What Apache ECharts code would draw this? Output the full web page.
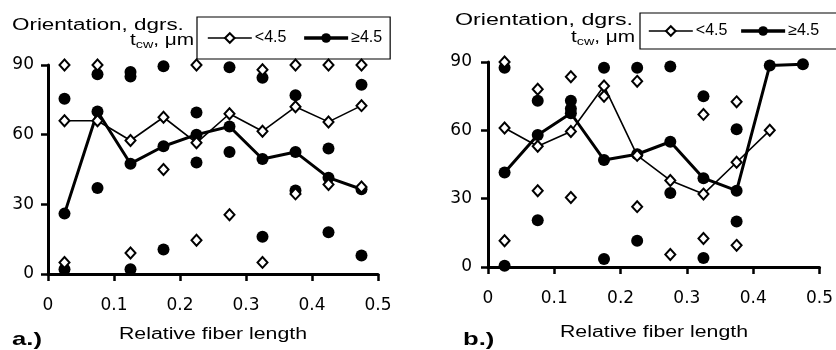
<!DOCTYPE html>
<html>
<head>
<meta charset="utf-8">
<script src="https://cdn.jsdelivr.net/npm/echarts@6/dist/echarts.min.js"></script>
<style>
  html, body { margin: 0; padding: 0; background: #fff; }
  #chart { width: 836px; height: 350px; }
</style>
</head>
<body>
<div id="chart"></div>
<script>
// bin centres of relative fiber length
const binX = [0.025, 0.075, 0.125, 0.175, 0.225, 0.275, 0.325, 0.375, 0.425, 0.475];
const xTicks = [0, 0.1, 0.2, 0.3, 0.4, 0.5];
const yTicks = [0, 30, 60, 90];

// panel a.) mean lines
const aThinMean = [66, 66, 57.5, 67.5, 56.5, 69, 61.5, 72, 65.5, 72.5];
const aThickMean = [26, 70, 47.5, 55, 60, 63.5, 49.5, 52.5, 41.5, 36.5];
// panel a.) individual points
const aThinPts = [[0.025, 90], [0.025, 5], [0.075, 90], [0.125, 9], [0.175, 45], [0.225, 90], [0.225, 14.5],
  [0.275, 25.5], [0.325, 88], [0.325, 5], [0.375, 90], [0.375, 34.5], [0.425, 90], [0.425, 38.5], [0.475, 90], [0.475, 37.5]];
const aThickPts = [[0.025, 75.5], [0.025, 2], [0.075, 86], [0.075, 37], [0.125, 85], [0.125, 87], [0.125, 2],
  [0.175, 89.5], [0.175, 10.5], [0.225, 69.5], [0.225, 48], [0.275, 89], [0.275, 52.5], [0.325, 84.5], [0.325, 16],
  [0.375, 77], [0.375, 36], [0.425, 54], [0.425, 18], [0.475, 81.5], [0.475, 8]];

// panel b.) mean lines
const bThinMean = [61, 53, 59.5, 79.5, 49, 38, 32, 46, 60];
const bThickMean = [41.5, 58, 67.5, 47, 49.5, 55, 39, 33.5, 88.5, 89];
// panel b.) individual points
const bThinPts = [[0.025, 90], [0.025, 11.5], [0.075, 78], [0.075, 33.5], [0.125, 83.5], [0.125, 30.5], [0.175, 75],
  [0.225, 81.5], [0.225, 26.5], [0.275, 5.5], [0.325, 67], [0.325, 12.5], [0.375, 72.5], [0.375, 9.5]];
const bThickPts = [[0.025, 87.5], [0.025, 0.5], [0.075, 73], [0.075, 20.5], [0.125, 73], [0.125, 69.5], [0.175, 87.5],
  [0.175, 3.5], [0.225, 87.5], [0.225, 11.5], [0.275, 88], [0.275, 32.5], [0.325, 75], [0.325, 4], [0.375, 60.5], [0.375, 20]];

const LOW = '<4.5', HIGH = '\u22654.5';
const pair = (vals) => vals.map((v, i) => [binX[i], v]);

const openSym = { color: '#fff', borderColor: '#000', borderWidth: 2, opacity: 1 };
const fillSym = { color: '#000', borderColor: '#000', borderWidth: 0, opacity: 1 };

function panelSeries(idx, thinMean, thickMean, thinPts, thickPts) {
  return [
    { name: LOW, type: 'line', xAxisIndex: idx, yAxisIndex: idx, data: pair(thinMean),
      symbol: 'diamond', symbolSize: [10, 11], itemStyle: openSym,
      lineStyle: { color: '#000', width: 1.6 }, z: 4 },
    { name: HIGH, type: 'line', xAxisIndex: idx, yAxisIndex: idx, data: pair(thickMean),
      symbol: 'circle', symbolSize: 12, itemStyle: fillSym,
      lineStyle: { color: '#000', width: 3 }, z: 3 },
    { name: LOW, type: 'scatter', xAxisIndex: idx, yAxisIndex: idx, data: thinPts,
      symbol: 'diamond', symbolSize: [10, 11], itemStyle: openSym, z: 5 },
    { name: HIGH, type: 'scatter', xAxisIndex: idx, yAxisIndex: idx, data: thickPts,
      symbol: 'circle', symbolSize: 12, itemStyle: fillSym, z: 4 }
  ];
}

function xAx(idx) {
  return {
    type: 'value', gridIndex: idx, min: xTicks[0], max: xTicks[xTicks.length - 1], interval: 0.1,
    axisLine: { onZero: false, lineStyle: { color: '#000', width: 3 } },
    axisTick: { length: 7, lineStyle: { color: '#000', width: 2.5 } },
    axisLabel: { color: '#000', fontFamily: 'DejaVu Sans', fontSize: 17, margin: 23 },
    splitLine: { show: false }
  };
}
function yAx(idx, margin) {
  return {
    type: 'value', gridIndex: idx, min: yTicks[0], max: yTicks[yTicks.length - 1], interval: 30,
    axisLine: { show: true, lineStyle: { color: '#000', width: 3 } },
    axisTick: { show: true, length: 7, lineStyle: { color: '#000', width: 2.5 } },
    axisLabel: { color: '#000', fontFamily: 'DejaVu Sans', fontSize: 17, margin: margin },
    splitLine: { show: false }
  };
}

function legendBox(left, top, width, padding, gap) {
  return {
    data: [
      { name: LOW, lineStyle: { width: 1.6 } },
      { name: HIGH, lineStyle: { width: 3.5 } }
    ],
    left: left, top: top, width: width, orient: 'horizontal',
    itemWidth: 44, itemHeight: 12, itemGap: gap, padding: padding,
    borderColor: '#000', borderWidth: 1.2, backgroundColor: '#fff',
    selectedMode: false,
    textStyle: { color: '#000', fontFamily: 'Liberation Sans', fontSize: 16, padding: [0, 0, 0, -2] }
  };
}

function label(text, x, y, size, sx, bold) {
  return {
    type: 'text', x: x, y: y, scaleX: sx, z: 10,
    style: { text: text, fill: '#000', font: (bold ? 'bold ' : '') + size + 'px "Liberation Sans"',
      textAlign: 'left', textVerticalAlign: 'bottom' }
  };
}
function centerLabel(text, x, y, size, sx) {
  return {
    type: 'text', x: x, y: y, scaleX: sx, z: 10,
    style: { text: text, fill: '#000', font: size + 'px "Liberation Sans"',
      textAlign: 'center', textVerticalAlign: 'bottom' }
  };
}
function tcw(x, y, sx) {
  return {
    type: 'text', x: x, y: y, scaleX: sx, z: 10,
    style: {
      text: '{t|t}{s|cw}{t|, \u03bcm}', textAlign: 'left', textVerticalAlign: 'bottom',
      rich: {
        t: { fontFamily: 'Liberation Sans', fontSize: 16, fill: '#000', color: '#000' },
        s: { fontFamily: 'Liberation Sans', fontSize: 11, fill: '#000', color: '#000', padding: [8, 0, 0, 0] }
      }
    }
  };
}

const chart = echarts.init(document.getElementById('chart'), null, { renderer: 'canvas' });
chart.setOption({
  animation: false,
  backgroundColor: '#fff',
  grid: [
    { left: 48, top: 65, width: 330, height: 209 },
    { left: 488, top: 62, width: 332, height: 205 }
  ],
  xAxis: [xAx(0), xAx(1)],
  yAxis: [yAx(0, 14), yAx(1, 16)],
  legend: [
    legendBox(197, 17, 220, [13, 8, 13, 10], 16),
    legendBox(640, 13, 220, [10, 30, 10, 8], 12)
  ],
  series: [].concat(
    panelSeries(0, aThinMean, aThickMean, aThinPts, aThickPts),
    panelSeries(1, bThinMean, bThickMean, bThinPts, bThickPts)
  ),
  graphic: [
    label('Orientation, dgrs.', 12, 34, 16, 1.4),
    tcw(130, 50, 1.3),
    label('Orientation, dgrs.', 455, 29, 16, 1.45),
    tcw(571, 47, 1.3),
    centerLabel('Relative fiber length', 213, 343, 16, 1.33),
    centerLabel('Relative fiber length', 654, 341, 16, 1.33),
    label('a.)', 12, 349, 19, 1.35, true),
    label('b.)', 463, 349, 19, 1.35, true)
  ]
});
</script>
</body>
</html>
